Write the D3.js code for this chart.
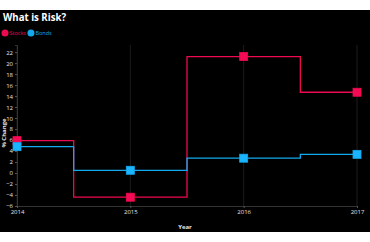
<!DOCTYPE html>
<html><head><meta charset="utf-8">
<script src="https://cdn.jsdelivr.net/npm/d3@7"></script>
<style>body{margin:0;background:#fff;}svg{display:block;font-family:"Open Sans",sans-serif;}</style>
</head><body>
<svg id="c" width="370" height="242"></svg>
<script>
const years = [2014, 2015, 2016, 2017];
const stocks = [5.9, -4.4, 21.2, 14.7];
const bonds = [4.8, 0.5, 2.7, 3.4];
const yTicks = [-6,-4,-2,0,2,4,6,8,10,12,14,16,18,20,22];
const seriesNames = ["Stocks", "Bonds"];
const colors = ["#ee0a50", "#14a9ee"];

const svg = d3.select("#c");
svg.append("rect").attr("x",0).attr("y",10).attr("width",370).attr("height",222).attr("fill","#000");

const x = d3.scaleLinear().domain([2014, 2017]).range([17, 357]);
const y = d3.scaleLinear().domain([-6, 23.3]).range([206, 45]);

// gridlines
svg.append("g").selectAll("line").data(years).join("line")
  .attr("x1", d=>x(d)).attr("x2", d=>x(d)).attr("y1", 45).attr("y2", 206)
  .attr("stroke", "#1c1c1c").attr("stroke-width", 1);

// axes
const yAxis = svg.append("g").attr("transform","translate(17,0)")
  .call(d3.axisLeft(y).tickValues(yTicks).tickSize(2).tickPadding(2));
const xAxis = svg.append("g").attr("transform","translate(0,206)")
  .call(d3.axisBottom(x).tickValues(years).tickFormat(d3.format("d")).tickSize(2).tickPadding(2));
[yAxis, xAxis].forEach(g=>{
  g.selectAll(".domain").attr("stroke","#333");
  g.selectAll(".tick line").attr("stroke","#555");
  g.selectAll("text").attr("fill","#e6e6e6").style("font-size","6px").style("font-family","Open Sans, sans-serif");
});

// axis titles
svg.append("text").attr("x",185).attr("y",229).attr("text-anchor","middle")
  .attr("fill","#e6e6e6").style("font-size","6px").style("font-weight","bold").text("Year");
svg.append("text").attr("transform","translate(5.5,133) rotate(-90)").attr("text-anchor","middle")
  .attr("fill","#e6e6e6").style("font-size","6px").style("font-weight","bold").text("% Change");

// lines
const data = [stocks, bonds];
const line = d3.line().x((d,i)=>x(years[i])).y(d=>y(d)).curve(d3.curveStep);
data.forEach((s,k)=>{
  svg.append("path").attr("d", line(s)).attr("fill","none").attr("stroke", colors[k]).attr("stroke-width",1.3);
});
data.forEach((s,k)=>{
  svg.append("g").selectAll("rect").data(s).join("rect")
    .attr("x",(d,i)=>x(years[i])-4).attr("y",d=>y(d)-4).attr("width",8).attr("height",8)
    .attr("fill", k===0 ? "#f50a55" : "#1ab4ff").attr("stroke", colors[k]).attr("stroke-width",0.8);
});

// title
svg.append("text").attr("x",3).attr("y",20.7).attr("fill","#fff")
  .attr("textLength",63).attr("lengthAdjust","spacingAndGlyphs")
  .style("font-size","11px").style("font-weight","bold").text("What is Risk?");

// legend
const lg = svg.append("g");
let lx = 5;
seriesNames.forEach((n,k)=>{
  lg.append("circle").attr("cx",lx).attr("cy",33).attr("r",3.5).attr("fill",colors[k]);
  const t = lg.append("text").attr("x",lx+4.5).attr("y",35).attr("fill",colors[k])
    .style("font-size","5.5px").text(n);
  lx += 4.5 + t.node().getComputedTextLength() + 5;
});
</script>
</body></html>
